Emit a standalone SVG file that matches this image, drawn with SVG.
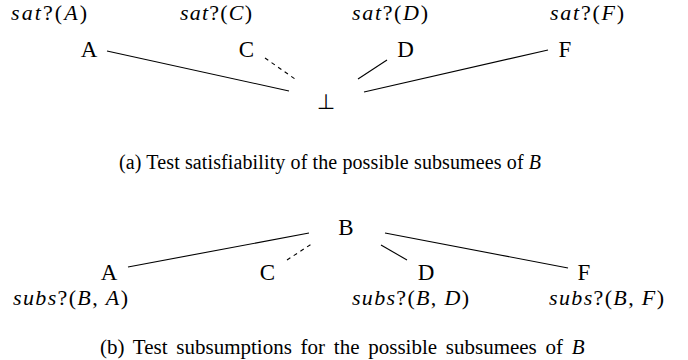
<svg xmlns="http://www.w3.org/2000/svg" width="688" height="360" viewBox="0 0 688 360">
<style>
text { font-family: "Liberation Serif", "DejaVu Serif", serif; font-size: 22px; fill: #000; }
.node { text-anchor: middle; font-size: 23px; }
.lab { text-anchor: middle; font-size: 22px; }
.i { font-style: italic; }
.cap { font-size: 20px; }
.capb { font-size: 21px; word-spacing: 3.5px; }
.edge { stroke: #000; stroke-width: 1.1; fill: none; }
.dash { stroke-dasharray: 4 4; }
.bot { font-family: "DejaVu Sans", sans-serif; font-size: 21px; text-anchor: middle; }
</style>
<rect width="688" height="360" fill="#fff"/>
<g id="connectors">
  <line class="edge" x1="107" y1="51" x2="289" y2="91"/>
  <line class="edge dash" x1="265" y1="58" x2="295" y2="79"/>
  <line class="edge" x1="387" y1="60" x2="358" y2="79"/>
  <line class="edge" x1="548" y1="50" x2="364" y2="92"/>
  <line class="edge" x1="128" y1="267" x2="309" y2="233"/>
  <line class="edge dash" x1="287" y1="260" x2="313" y2="243"/>
  <line class="edge" x1="381" y1="245" x2="407" y2="260"/>
  <line class="edge" x1="385" y1="233" x2="568" y2="268"/>
</g>
<g id="a-A">
  <text class="lab" x="49" y="20" textLength="76" lengthAdjust="spacing"><tspan class="i">sat</tspan>?(<tspan class="i">A</tspan>)</text>
  <text class="node" x="89" y="57">A</text>
</g>
<g id="a-C">
  <text class="lab" x="216" y="20" textLength="72" lengthAdjust="spacing"><tspan class="i">sat</tspan>?(<tspan class="i">C</tspan>)</text>
  <text class="node" x="246.5" y="57">C</text>
</g>
<g id="a-D">
  <text class="lab" x="390" y="20" textLength="76" lengthAdjust="spacing"><tspan class="i">sat</tspan>?(<tspan class="i">D</tspan>)</text>
  <text class="node" x="405.5" y="57">D</text>
</g>
<g id="a-F">
  <text class="lab" x="587" y="20" textLength="74" lengthAdjust="spacing"><tspan class="i">sat</tspan>?(<tspan class="i">F</tspan>)</text>
  <text class="node" x="565" y="57">F</text>
</g>
<g id="a-bottom">
  <text class="bot" x="326" y="109">⊥</text>
</g>
<text class="cap" x="119" y="169" textLength="422" lengthAdjust="spacing">(a) Test satisfiability of the possible subsumees of <tspan class="i">B</tspan></text>
<g id="b-B">
  <text class="node" x="346" y="235">B</text>
</g>
<g id="b-A">
  <text class="node" x="109" y="280">A</text>
  <text class="lab" x="70.5" y="305" textLength="115" lengthAdjust="spacing"><tspan class="i">subs</tspan>?(<tspan class="i">B</tspan>, <tspan class="i">A</tspan>)</text>
</g>
<g id="b-C">
  <text class="node" x="267.5" y="280">C</text>
</g>
<g id="b-D">
  <text class="node" x="426" y="280">D</text>
  <text class="lab" x="410.5" y="305" textLength="117" lengthAdjust="spacing"><tspan class="i">subs</tspan>?(<tspan class="i">B</tspan>, <tspan class="i">D</tspan>)</text>
</g>
<g id="b-F">
  <text class="node" x="584" y="280">F</text>
  <text class="lab" x="606.5" y="305" textLength="115" lengthAdjust="spacing"><tspan class="i">subs</tspan>?(<tspan class="i">B</tspan>, <tspan class="i">F</tspan>)</text>
</g>
<text class="capb" x="100" y="354">(b) Test subsumptions for the possible subsumees of <tspan class="i">B</tspan></text>
</svg>
